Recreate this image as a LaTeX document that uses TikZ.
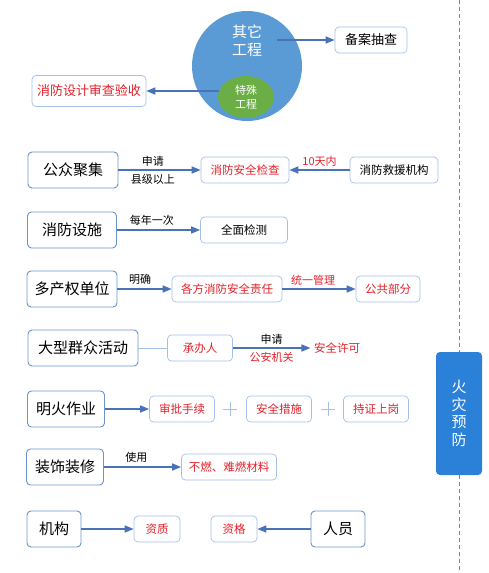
\documentclass[tikz,border=0pt]{standalone}
\usepackage{fontspec}
\setmainfont{Noto Sans CJK SC}
\usetikzlibrary{arrows.meta,shapes.geometric}
\definecolor{bubble}{HTML}{5B9BD5}
\definecolor{leaf}{HTML}{6CAE46}
\definecolor{fireblue}{HTML}{2B80D8}
\definecolor{bigedge}{HTML}{6A94CC}
\definecolor{smalledge}{HTML}{A4C0E6}
\definecolor{linkblue}{HTML}{4A72B8}
\definecolor{firered}{HTML}{E3212B}
\definecolor{dashblue}{HTML}{5E87C4}
\begin{document}
\begin{tikzpicture}[x=1pt,y=-1pt,
    bigbox/.style={draw=bigedge,line width=0.9pt,rounded corners=4pt,minimum height=36pt,inner sep=0pt,font=\fontsize{15}{15}\selectfont},
    smallbox/.style={draw=smalledge,line width=0.7pt,rounded corners=4pt,minimum height=26pt,inner sep=0pt,font=\fontsize{11.5}{12}\selectfont},
    link/.style={draw=linkblue,line width=1.5pt,-{Triangle[length=9pt,width=7pt]}},
    lbl/.style={font=\fontsize{11}{12}\selectfont}]
    \fill[white] (0,0) rectangle (488,573);
    \useasboundingbox (0,0) rectangle (488,573);

    % projects
    \node[circle,fill=bubble,minimum size=110pt,inner sep=0pt] (other) at (247,66) {};
    \node[text=white,align=center,font=\fontsize{15}{18}\selectfont] (othertext) at (247,41) {其它\\工程};
    \node[ellipse,fill=leaf,minimum width=56pt,minimum height=42pt,inner sep=0pt,text=white,align=center,font=\fontsize{11}{14}\selectfont] (special) at (246,97) {特殊\\工程};
    \node[smallbox,minimum width=72pt,font=\fontsize{13}{13}\selectfont] (spot) at (371,40) {备案抽查};
    \node[smallbox,minimum width=114pt,minimum height=31pt,text=firered,font=\fontsize{13}{13}\selectfont] (review) at (89,91) {消防设计审查验收};
    \coordinate (otherout) at (277,40);
    \coordinate (specialout) at (219,91);
    \draw[link] (otherout) -- (spot);
    \draw[link] (specialout) -- (review);

    % fire prevention
    \node[fill=fireblue,rounded corners=4pt,minimum width=46pt,minimum height=123pt,text=white,align=center,font=\fontsize{15}{17.5}\selectfont] (prevent) at (459,413.5) {火\\灾\\预\\防};
    \coordinate (topend) at (459,0);
    \coordinate (bottomend) at (459,573);
    \draw[dashblue,line width=1pt,dash pattern=on 4pt off 3pt] (topend) -- (prevent.north);
    \draw[dashblue,line width=1pt,dash pattern=on 4pt off 3pt] (prevent.south) -- (bottomend);

    \node[bigbox,minimum width=90pt] (crowd) at (73,170) {公众聚集};
    \node[smallbox,minimum width=88pt,text=firered] (inspect) at (245,170) {消防安全检查};
    \node[smallbox,minimum width=88pt] (rescue) at (394,170) {消防救援机构};
    \draw[link] (crowd) -- (inspect) node[lbl,pos=0.42,above] {申请} node[lbl,pos=0.42,below] {县级以上};
    \draw[link] (rescue) -- (inspect) node[lbl,midway,above,text=firered] {10天内};

    \node[bigbox,minimum width=89pt] (facility) at (72,230) {消防设施};
    \node[smallbox,minimum width=87pt] (testall) at (244,230) {全面检测};
    \draw[link] (facility) -- (testall) node[lbl,pos=0.42,above] {每年一次};

    \node[bigbox,minimum width=90pt] (owners) at (72,289) {多产权单位};
    \node[smallbox,minimum width=110pt,text=firered] (duty) at (227,289) {各方消防安全责任};
    \node[smallbox,minimum width=64pt,text=firered] (common) at (388,289) {公共部分};
    \draw[link] (owners) -- (duty) node[lbl,pos=0.42,above] {明确};
    \draw[link] (duty) -- (common) node[lbl,pos=0.42,above,text=firered] {统一管理};

    \node[bigbox,minimum width=110pt] (event) at (83,348) {大型群众活动};
    \node[smallbox,minimum width=65pt,text=firered] (host) at (200,348) {承办人};
    \node[lbl,text=firered,font=\fontsize{11.5}{12}\selectfont] (permit) at (337,348) {安全许可};
    \draw[smalledge,line width=1pt] (event) -- (host);
    \draw[link] (host) -- (permit) node[lbl,midway,above] {申请} node[lbl,midway,below,text=firered] {公安机关};

    \node[bigbox,minimum width=77pt] (flame) at (66,409) {明火作业};
    \node[smallbox,minimum width=65pt,text=firered] (approve) at (182,409) {审批手续};
    \node[smallbox,minimum width=65pt,text=firered] (measure) at (279,409) {安全措施};
    \node[smallbox,minimum width=65pt,text=firered] (license) at (376,409) {持证上岗};
    \draw[link] (flame) -- (approve);
    \draw[smalledge,line width=1pt] (230,402) -- (230,416) (223,409) -- (237,409);
    \draw[smalledge,line width=1pt] (328,402) -- (328,416) (321,409) -- (335,409);

    \node[bigbox,minimum width=77pt] (decor) at (65,467) {装饰装修};
    \node[smallbox,minimum width=95pt,text=firered] (nonburn) at (229,467) {不燃、难燃材料};
    \draw[link] (decor) -- (nonburn) node[lbl,pos=0.42,above] {使用};

    \node[bigbox,minimum width=54pt] (org) at (54,529) {机构};
    \node[smallbox,minimum width=46pt,text=firered] (qual) at (157,529) {资质};
    \node[smallbox,minimum width=46pt,text=firered] (cert) at (234,529) {资格};
    \node[bigbox,minimum width=54pt] (staff) at (338,529) {人员};
    \draw[link] (org) -- (qual);
    \draw[link] (staff) -- (cert);

\end{tikzpicture}
\end{document}
